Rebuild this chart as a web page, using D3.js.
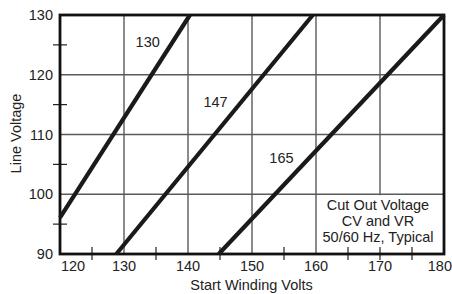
<!DOCTYPE html>
<html>
<head>
<meta charset="utf-8">
<script src="https://cdn.jsdelivr.net/npm/d3@7"></script>
<style>
  html, body { margin: 0; padding: 0; background: #fff; }
  svg { display: block; font-family: "Liberation Sans", Arial, sans-serif; }
</style>
</head>
<body>
<svg></svg>
<script>
var width = 452;
var height = 294;

// data
var xMajor = [120, 130, 140, 150, 160, 170, 180];
var xMinor = [125, 135, 145, 155, 165, 175];
var yMajor = [90, 100, 110, 120, 130];
var yMinor = [95, 105, 115, 125];
var seriesNames = ["130", "147", "165"];
var seriesStart = [[120, 96.1], [128.8, 90], [144.8, 90]];
var seriesEnd = [[140.3, 130], [159.5, 130], [180, 130]];
var labelPos = [[133.7, 125.5], [144.3, 115.5], [154.6, 106.1]];
var noteLines = ["Cut Out Voltage", "CV and VR", "50/60 Hz, Typical"];

var fs = '14.5px';

var x = d3.scaleLinear().domain([120, 180]).range([60, 444]);
var y = d3.scaleLinear().domain([90, 130]).range([254, 15]);

var svg = d3.select('svg')
    .attr('width', width)
    .attr('height', height)
    .attr('viewBox', '0 0 ' + width + ' ' + height);

var g = svg.append('g');

// grid
g.selectAll('line.vgrid')
    .data(xMajor.slice(1, -1))
    .enter()
    .append('line')
    .attr('class', 'vgrid')
    .attr('x1', function (d) { return x(d); })
    .attr('x2', function (d) { return x(d); })
    .attr('y1', y(130))
    .attr('y2', y(90))
    .attr('stroke', '#5a5a5a')
    .attr('stroke-width', 1.4);

g.selectAll('line.hgrid')
    .data(yMajor.slice(1, -1))
    .enter()
    .append('line')
    .attr('class', 'hgrid')
    .attr('x1', x(120))
    .attr('x2', x(180))
    .attr('y1', function (d) { return y(d); })
    .attr('y2', function (d) { return y(d); })
    .attr('stroke', '#5a5a5a')
    .attr('stroke-width', 1.4);

// white box behind the note
g.append('rect')
    .attr('x', x(160) + 1)
    .attr('y', y(100) + 1)
    .attr('width', x(180) - x(160) - 1)
    .attr('height', y(90) - y(100) - 1)
    .attr('fill', '#fff');

// minor ticks
g.selectAll('line.xminor')
    .data(xMinor.concat([170]))
    .enter()
    .append('line')
    .attr('x1', function (d) { return x(d); })
    .attr('x2', function (d) { return x(d); })
    .attr('y1', y(90) - 7)
    .attr('y2', y(90) + 6)
    .attr('stroke', '#222')
    .attr('stroke-width', 1.2);

g.selectAll('line.yminor')
    .data(yMinor)
    .enter()
    .append('line')
    .attr('x1', x(120) - 7)
    .attr('x2', x(120) + 7)
    .attr('y1', function (d) { return y(d); })
    .attr('y2', function (d) { return y(d); })
    .attr('stroke', '#222')
    .attr('stroke-width', 1.2);

// frame
g.append('rect')
    .attr('x', x(120))
    .attr('y', y(130))
    .attr('width', x(180) - x(120))
    .attr('height', y(90) - y(130))
    .attr('fill', 'none')
    .attr('stroke', '#111')
    .attr('stroke-width', 2.8);

// curves
var line = d3.line()
    .x(function (d) { return x(d[0]); })
    .y(function (d) { return y(d[1]); });

g.selectAll('path.curve')
    .data(seriesNames.map(function (n, i) { return [seriesStart[i], seriesEnd[i]]; }))
    .enter()
    .append('path')
    .attr('class', 'curve')
    .attr('d', line)
    .attr('fill', 'none')
    .attr('stroke', '#1a1a1a')
    .attr('stroke-width', 4.2);

// curve labels
g.selectAll('text.clabel')
    .data(seriesNames)
    .enter()
    .append('text')
    .attr('x', function (d, i) { return x(labelPos[i][0]); })
    .attr('y', function (d, i) { return y(labelPos[i][1]); })
    .attr('text-anchor', 'middle')
    .attr('dy', '.35em')
    .attr('fill', '#222')
    .style('font-size', fs)
    .text(function (d) { return d; });

// tick labels
g.selectAll('text.xtick')
    .data(xMajor)
    .enter()
    .append('text')
    .attr('x', function (d, i) {
        if (i === 0) return x(d) + 13;
        if (i === xMajor.length - 1) return width;
        return x(d);
    })
    .attr('y', 266)
    .attr('text-anchor', function (d, i) { return i === xMajor.length - 1 ? 'end' : 'middle'; })
    .attr('dy', '.35em')
    .attr('fill', '#222')
    .style('font-size', fs)
    .text(function (d) { return d; });

g.selectAll('text.ytick')
    .data(yMajor)
    .enter()
    .append('text')
    .attr('x', 53)
    .attr('y', function (d) { return y(d); })
    .attr('text-anchor', 'end')
    .attr('dy', '.35em')
    .attr('fill', '#222')
    .style('font-size', fs)
    .text(function (d) { return d; });

// axis titles
g.append('text')
    .attr('x', 251.5)
    .attr('y', 285)
    .attr('text-anchor', 'middle')
    .attr('dy', '.35em')
    .attr('fill', '#222')
    .style('font-size', fs)
    .text('Start Winding Volts');

g.append('text')
    .attr('transform', 'translate(15.5,133.5) rotate(-90)')
    .attr('text-anchor', 'middle')
    .attr('dy', '.35em')
    .attr('fill', '#222')
    .style('font-size', fs)
    .text('Line Voltage');

// note
g.selectAll('text.note')
    .data(noteLines)
    .enter()
    .append('text')
    .attr('x', 378)
    .attr('y', function (d, i) { return 205 + i * 16; })
    .attr('text-anchor', 'middle')
    .attr('dy', '.35em')
    .attr('fill', '#222')
    .style('font-size', fs)
    .text(function (d) { return d; });
</script>
</body>
</html>
